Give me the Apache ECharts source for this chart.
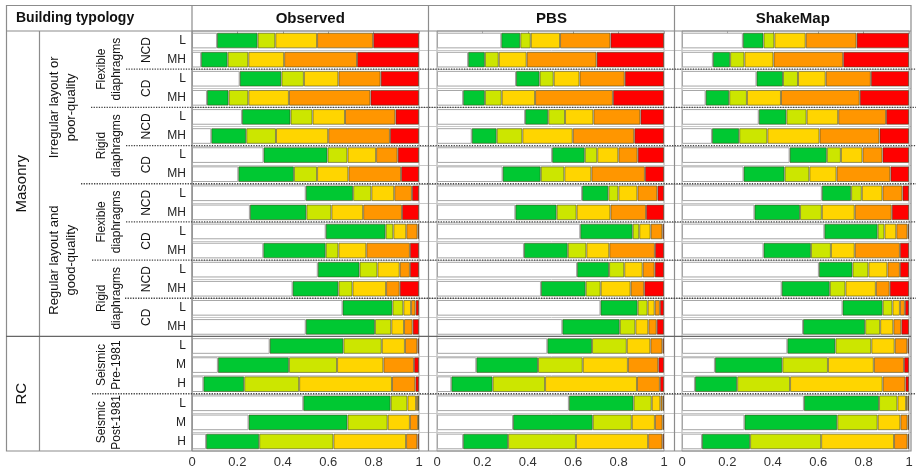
<!DOCTYPE html>
<html lang="en">
<head>
<meta charset="UTF-8">
<title>Damage distribution by building typology</title>
<style>html,body{margin:0;padding:0;background:#fff}</style>
</head>
<body>
<div id="main" style="width:916px;height:472px"></div>
<script src="https://cdn.jsdelivr.net/npm/echarts@6.0.0/dist/echarts.min.js"></script>
<script>
// row labels (top to bottom)
var rowLabels = ['L', 'MH', 'L', 'MH', 'L', 'MH', 'L', 'MH',
                 'L', 'MH', 'L', 'MH', 'L', 'MH', 'L', 'MH',
                 'L', 'M', 'H', 'L', 'M', 'H'];
var xTicks = [0, 0.2, 0.4, 0.6, 0.8, 1];
var panelNames = ['Observed', 'PBS', 'ShakeMap'];
var damageStates = ['D0', 'D1', 'D2', 'D3', 'D4', 'D5'];
var stateColors = ['#ffffff', '#00c832', '#cce600', '#ffd500', '#ff9600', '#ff0000'];

// fraction of buildings in D0..D5 for each row
var observed = [
    [0.110, 0.179, 0.078, 0.184, 0.247, 0.202],
    [0.040, 0.117, 0.091, 0.158, 0.321, 0.273],
    [0.210, 0.184, 0.099, 0.152, 0.186, 0.169],
    [0.066, 0.095, 0.087, 0.179, 0.359, 0.214],
    [0.220, 0.214, 0.097, 0.143, 0.222, 0.104],
    [0.085, 0.154, 0.131, 0.230, 0.272, 0.128],
    [0.315, 0.282, 0.088, 0.126, 0.095, 0.094],
    [0.204, 0.245, 0.102, 0.138, 0.232, 0.079],
    [0.501, 0.209, 0.080, 0.101, 0.078, 0.031],
    [0.255, 0.249, 0.110, 0.140, 0.171, 0.075],
    [0.589, 0.264, 0.034, 0.057, 0.050, 0.006],
    [0.314, 0.275, 0.056, 0.123, 0.192, 0.040],
    [0.554, 0.184, 0.079, 0.098, 0.045, 0.040],
    [0.443, 0.202, 0.062, 0.148, 0.060, 0.085],
    [0.663, 0.220, 0.048, 0.034, 0.020, 0.015],
    [0.501, 0.305, 0.072, 0.056, 0.038, 0.028],
    [0.342, 0.325, 0.169, 0.102, 0.055, 0.007],
    [0.114, 0.313, 0.212, 0.204, 0.135, 0.022],
    [0.050, 0.180, 0.242, 0.409, 0.103, 0.016],
    [0.490, 0.385, 0.074, 0.038, 0.009, 0.004],
    [0.249, 0.436, 0.177, 0.098, 0.036, 0.004],
    [0.062, 0.234, 0.327, 0.320, 0.050, 0.007]
];
var pbs = [
    [0.283, 0.084, 0.046, 0.129, 0.222, 0.236],
    [0.137, 0.074, 0.061, 0.123, 0.308, 0.297],
    [0.348, 0.104, 0.062, 0.114, 0.199, 0.173],
    [0.115, 0.096, 0.074, 0.147, 0.343, 0.225],
    [0.388, 0.102, 0.074, 0.125, 0.207, 0.104],
    [0.153, 0.110, 0.113, 0.222, 0.271, 0.131],
    [0.507, 0.144, 0.055, 0.093, 0.085, 0.116],
    [0.289, 0.168, 0.104, 0.119, 0.236, 0.084],
    [0.639, 0.116, 0.044, 0.084, 0.088, 0.029],
    [0.345, 0.182, 0.088, 0.149, 0.157, 0.079],
    [0.631, 0.231, 0.029, 0.050, 0.052, 0.007],
    [0.383, 0.193, 0.082, 0.101, 0.201, 0.040],
    [0.617, 0.141, 0.067, 0.081, 0.053, 0.041],
    [0.458, 0.197, 0.066, 0.132, 0.060, 0.087],
    [0.720, 0.164, 0.044, 0.031, 0.023, 0.018],
    [0.552, 0.253, 0.069, 0.057, 0.037, 0.032],
    [0.486, 0.197, 0.153, 0.104, 0.053, 0.007],
    [0.173, 0.272, 0.197, 0.199, 0.134, 0.025],
    [0.063, 0.182, 0.231, 0.405, 0.101, 0.018],
    [0.581, 0.285, 0.080, 0.038, 0.010, 0.006],
    [0.335, 0.351, 0.172, 0.102, 0.034, 0.006],
    [0.115, 0.198, 0.299, 0.318, 0.063, 0.007]
];
var shakemap = [
    [0.268, 0.091, 0.048, 0.138, 0.224, 0.231],
    [0.136, 0.076, 0.063, 0.128, 0.307, 0.290],
    [0.328, 0.117, 0.066, 0.122, 0.199, 0.168],
    [0.104, 0.104, 0.078, 0.150, 0.347, 0.217],
    [0.338, 0.122, 0.089, 0.139, 0.211, 0.101],
    [0.132, 0.120, 0.124, 0.230, 0.264, 0.130],
    [0.474, 0.164, 0.062, 0.095, 0.088, 0.117],
    [0.271, 0.181, 0.109, 0.120, 0.237, 0.082],
    [0.616, 0.129, 0.047, 0.091, 0.088, 0.029],
    [0.319, 0.201, 0.096, 0.145, 0.163, 0.076],
    [0.627, 0.235, 0.030, 0.052, 0.050, 0.006],
    [0.359, 0.209, 0.088, 0.105, 0.199, 0.040],
    [0.603, 0.148, 0.070, 0.084, 0.055, 0.040],
    [0.439, 0.212, 0.069, 0.134, 0.061, 0.085],
    [0.707, 0.177, 0.043, 0.033, 0.022, 0.018],
    [0.533, 0.274, 0.066, 0.058, 0.035, 0.034],
    [0.464, 0.212, 0.158, 0.103, 0.056, 0.007],
    [0.145, 0.297, 0.201, 0.202, 0.133, 0.022],
    [0.057, 0.186, 0.233, 0.408, 0.100, 0.016],
    [0.537, 0.331, 0.081, 0.038, 0.007, 0.006],
    [0.275, 0.409, 0.178, 0.100, 0.032, 0.006],
    [0.088, 0.212, 0.313, 0.321, 0.060, 0.006]
];

// typology hierarchy: [label, first row, last row]
var level1 = [['Masonry', 0, 15], ['RC', 16, 21]];
var level2 = [['Irregular layout or\npoor-quality', 0, 7], ['Regular layout and\ngood-quality', 8, 15]];
var level3 = [['Flexible\ndiaphragms', 0, 3], ['Rigid\ndiaphragms', 4, 7],
              ['Flexible\ndiaphragms', 8, 11], ['Rigid\ndiaphragms', 12, 15],
              ['Seismic\nPre-1981', 16, 18], ['Seismic\nPost-1981', 19, 21]];
var level4 = [['NCD', 0, 1], ['CD', 2, 3], ['NCD', 4, 5], ['CD', 6, 7],
              ['NCD', 8, 9], ['CD', 10, 11], ['NCD', 12, 13], ['CD', 14, 15]];

var FONT = '"Liberation Sans", Arial, sans-serif';
var panelData = [observed, pbs, shakemap];
var panelLeft = [192, 437, 682];
var panelWidth = 227;

var app = echarts.init(document.getElementById('main'));

var grids = [], xAxes = [], yAxes = [], series = [];
for (var p = 0; p < 3; p++) {
    grids.push({
        left: panelLeft[p], width: panelWidth, top: 31, bottom: 21,
        show: true, borderColor: '#a6a6a6', borderWidth: 1
    });
    // bottom axis with labels
    xAxes.push({
        type: 'value', gridIndex: p, min: 0, max: 1, interval: 0.2,
        axisLine: {show: false}, axisTick: {show: false}, splitLine: {show: false},
        axisLabel: {margin: 5, fontSize: 13, color: '#333', fontFamily: FONT,
            customValues: xTicks}
    });
    yAxes.push({
        type: 'category', gridIndex: p, inverse: true,
        data: rowLabels.map(function (v, i) { return i; }),
        axisLine: {show: false}, axisTick: {show: false}, splitLine: {show: false},
        axisLabel: {
            show: p === 0, margin: 6, fontSize: 12, color: '#222', fontFamily: FONT,
            formatter: function (v, i) { return rowLabels[i]; }
        }
    });
}
// small top ticks
for (var p = 0; p < 3; p++) {
    xAxes.push({
        type: 'value', gridIndex: p, position: 'top', min: 0, max: 1, interval: 0.2,
        axisLine: {show: false}, splitLine: {show: false}, axisLabel: {show: false},
        axisTick: {show: true, inside: true, length: 3, lineStyle: {color: '#a6a6a6'}}
    });
}

for (var p = 0; p < 3; p++) {
    for (var d = 0; d < damageStates.length; d++) {
        series.push({
            name: damageStates[d],
            type: 'bar',
            xAxisIndex: p,
            yAxisIndex: p,
            stack: 'panel' + p,
            barCategoryGap: '18%',
            silent: true,
            itemStyle: {
                color: stateColors[d],
                borderColor: d === 0 ? '#a6a6a6' : 'rgba(60,60,20,0.55)',
                borderWidth: 1
            },
            data: panelData[p].map(function (row) { return row[d]; })
        });
    }
}

app.setOption({
    animation: false,
    grid: grids,
    xAxis: xAxes,
    yAxis: yAxes,
    series: series
});

// table frame, labels and separators, positioned from the category axis
(function () {
    function rowCenter(i) { return app.convertToPixel({yAxisIndex: 0}, i); }
    var step = rowCenter(1) - rowCenter(0);
    function rowTop(i) { return rowCenter(i) - step / 2; }
    function rowBottom(i) { return rowCenter(i) + step / 2; }

    var plotTop = rowTop(0), plotBottom = rowBottom(rowLabels.length - 1);
    var rightEdge = 911;
    var lineColor = '#8c8c8c';
    var g = [];

    function line(x1, y1, x2, y2, style, z) {
        g.push({type: 'line', shape: {x1: x1, y1: y1, x2: x2, y2: y2},
            style: style, z: z, silent: true});
    }
    function vtext(txt, x, y, size, lh) {
        g.push({type: 'text', x: x, y: y, rotation: Math.PI / 2, z: 50, silent: true,
            style: {text: txt, fill: '#111', font: size + 'px ' + FONT,
                align: 'center', verticalAlign: 'middle', lineHeight: lh || size + 4}});
    }

    // light row lines across the panels
    for (var i = 0; i < rowLabels.length - 1; i++) {
        var yb = Math.round(rowBottom(i)) + 0.5;
        line(192, yb, rightEdge, yb, {stroke: '#c8c8c8', lineWidth: 1}, 0);
    }

    // outer frame and columns
    g.push({type: 'rect', shape: {x: 6.5, y: 5.5, width: rightEdge - 6.5, height: plotBottom - 5.5},
        style: {fill: null, stroke: lineColor, lineWidth: 1.2}, z: 60, silent: true});
    line(6, plotTop, rightEdge, plotTop, {stroke: lineColor, lineWidth: 1.2}, 60);
    line(39.5, plotTop, 39.5, plotBottom, {stroke: lineColor, lineWidth: 1.2}, 60);
    [192, 428.5, 674.5].forEach(function (x) {
        line(x, 5.5, x, plotBottom, {stroke: lineColor, lineWidth: 1.2}, 60);
    });

    // Masonry / RC boundary
    var yMR = rowBottom(15);
    line(6, yMR, rightEdge, yMR, {stroke: '#666', lineWidth: 1.2}, 60);

    // dotted group separators: [row above, left x]
    var dotted = [[1, 126], [3, 91], [5, 126], [7, 81], [9, 126], [11, 92], [13, 125], [18, 92]];
    dotted.forEach(function (s) {
        var y = rowBottom(s[0]);
        line(s[1], y, rightEdge + 5, y, {stroke: '#444', lineWidth: 1.3, lineDash: [1.3, 1.3]}, 70);
    });

    // headers
    g.push({type: 'text', x: 16, y: 18.5, z: 50, silent: true,
        style: {text: 'Building typology', fill: '#111', font: 'bold 14px ' + FONT,
            align: 'left', verticalAlign: 'middle'}});
    var headCenters = [(192 + 428.5) / 2, (428.5 + 674.5) / 2, (674.5 + rightEdge) / 2];
    panelNames.forEach(function (n, k) {
        g.push({type: 'text', x: headCenters[k], y: 18.5, z: 50, silent: true,
            style: {text: n, fill: '#111', font: 'bold 15px ' + FONT,
                align: 'center', verticalAlign: 'middle'}});
    });

    function mid(a, b) { return (rowTop(a) + rowBottom(b)) / 2; }
    level1.forEach(function (l) { vtext(l[0], 22, mid(l[1], l[2]), 15); });
    level2.forEach(function (l) { vtext(l[0], 63, mid(l[1], l[2]), 13, 17); });
    level3.forEach(function (l) { vtext(l[0], 109, mid(l[1], l[2]), 12, 15); });
    level4.forEach(function (l) { vtext(l[0], 147, mid(l[1], l[2]), 12); });

    app.setOption({graphic: {elements: g}});
})();
</script>
</body>
</html>
